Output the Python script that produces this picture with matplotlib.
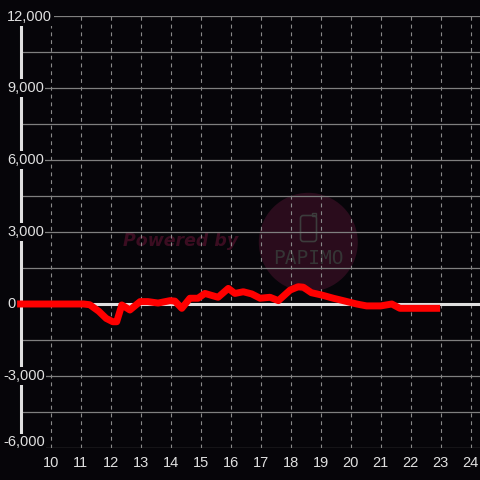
import matplotlib
matplotlib.use("Agg")
import matplotlib.pyplot as plt
import matplotlib.transforms as mtransforms
from matplotlib.patches import Circle, FancyBboxPatch, Rectangle
import numpy as np

# ---- data ----
hours = [8.88, 11.1, 11.3, 11.6, 11.85, 12.07, 12.2, 12.37, 12.64, 12.98, 13.24,
         13.58, 13.98, 14.14, 14.37, 14.64, 14.91, 15.14, 15.58, 15.92, 16.14,
         16.42, 16.7, 16.98, 17.31, 17.59, 17.98, 18.25, 18.42, 18.69, 19.03,
         19.42, 19.75, 20.2, 20.53, 21.0, 21.37, 21.64, 22.98]
values = [0, 0, -30, -300, -600, -740, -740, -40, -250, 100, 100,
          40, 140, 120, -180, 240, 240, 440, 280, 650, 440,
          510, 420, 240, 280, 140, 580, 720, 700, 470, 375,
          240, 140, 0, -80, -80, 0, -180, -180]
x_ticks = list(range(10, 25))
y_grid = list(range(-6000, 12001, 1500))
y_labels = [12000, 9000, 6000, 3000, 0, -3000, -6000]

BG = "#060509"
FG = "#e0e0e0"
W = H = 480.0

plt.rcParams['font.family'] = ['Liberation Sans', 'DejaVu Sans']

fig = plt.figure(figsize=(4.8, 4.8), dpi=100, facecolor=BG)
left_px, right_px, top_px, bot_px = 20.7, 480.0, 16.0, 448.0
ax = fig.add_axes([left_px / W, 1 - bot_px / H, (right_px - left_px) / W, (bot_px - top_px) / H])
ax.set_facecolor("none")

def fpx(x, y):
    return (x / W, 1 - y / H)

# ---- watermark (behind grid) ----
circ = Circle(fpx(308.3, 242.3), 49.5 / W, transform=fig.transFigure,
              facecolor="#2a0c1c", edgecolor="none", zorder=-2)
fig.patches.append(circ)
phone = FancyBboxPatch(fpx(300.5, 241.5), 16.0 / W, 26.0 / H,
                       boxstyle="round,pad=0,rounding_size=0.006",
                       transform=fig.transFigure, facecolor="none",
                       edgecolor="#3c3c3c", linewidth=1.2, zorder=-1)
fig.patches.append(phone)
tab = Rectangle(fpx(311.5, 216.0), 4.5 / W, 3.5 / H, transform=fig.transFigure,
                facecolor="none", edgecolor="#3c3c3c", linewidth=1.0, zorder=-1)
fig.patches.append(tab)
fig.text(*fpx(308.5, 258.5), "PAPIMO", ha="center", va="center", color="#353535",
         fontsize=14, family="DejaVu Sans Mono", zorder=-1)
fig.text(*fpx(181, 240.5), "Powered by", ha="center", va="center", color="#3b0d21",
         fontsize=12.5, fontweight="bold", fontstyle="italic", family="DejaVu Sans",
         zorder=-1)

# ---- axes ----
ax.set_xlim(9, 9 + (right_px - left_px) / 30.0)
ax.set_ylim(-6000, 12000)
ax.set_xticks(x_ticks)
ax.set_xticklabels([str(t) for t in x_ticks])
ax.set_yticks(y_grid)
ax.tick_params(axis="y", length=0, labelleft=False)
ax.tick_params(axis="x", length=0, pad=6, colors=FG, labelsize=10.5)
ax.grid(axis="y", color="#7f7f7f", linewidth=0.9, linestyle="-")
ax.grid(axis="x", color="#8a8a8a", linewidth=0.8, linestyle=(0, (3.5, 3.5)))
ax.set_axisbelow(True)
for s in ["top", "right", "bottom"]:
    ax.spines[s].set_visible(False)
ax.spines["left"].set_color(FG)
ax.spines["left"].set_linewidth(2.2)

ax.axhline(0, color=FG, linewidth=2.2, zorder=2)

ax.plot(hours, values, color="#ff0000", linewidth=5, solid_capstyle="butt",
        solid_joinstyle="round", zorder=5, clip_on=False)

# y labels with background boxes covering the axis line
trans = mtransforms.blended_transform_factory(fig.transFigure, ax.transData)
for v in y_labels:
    s = f"{v:,}" if v >= 0 else "-" + f"{-v:,}"
    xp = 7 if v >= 0 else 3
    yv = v
    if v == -6000:
        yv = -5760
    if v == 12000:
        yv = 11940
    ax.text(xp / W, yv, s, transform=trans, ha="left", va="center", color=FG,
            fontsize=10.5, zorder=6,
            bbox=dict(facecolor=BG, edgecolor="none", pad=1.2))

fig.savefig("out.png", dpi=100, facecolor=BG)
